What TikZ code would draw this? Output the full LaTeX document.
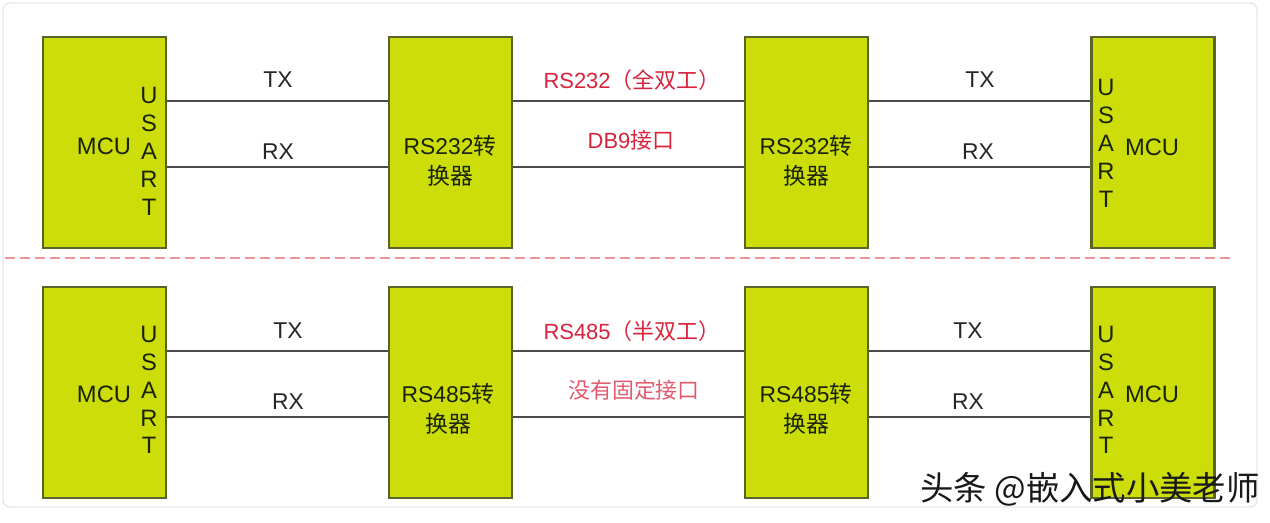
\documentclass[tikz,border=0pt]{standalone}
\usepackage{fontspec}
\setmainfont{Liberation Sans}
\newfontfamily\cjk{Noto Sans CJK SC}
\usetikzlibrary{positioning, calc}
\definecolor{boxgreen}{RGB}{205, 221, 10}
\definecolor{boxedge}{RGB}{90, 100, 40}
\definecolor{boxtext}{RGB}{25, 35, 5}
\definecolor{wiregray}{RGB}{75, 75, 75}
\definecolor{labred}{RGB}{215, 35, 60}
\definecolor{dashpink}{RGB}{235, 150, 150}
\definecolor{framegray}{RGB}{232, 232, 236}

\tikzset{
  unit/.style={draw=boxedge, line width=1.3pt, fill=boxgreen, minimum width=2.46cm, minimum height=4.22cm, inner sep=0pt},
  wire/.style={wiregray, line width=1pt},
  sig/.style={font=\fontsize{13}{15}\selectfont, text=black!85, inner sep=1pt},
  mcutext/.style={font=\fontsize{13.5}{15}\selectfont, text=boxtext, inner sep=1pt},
  port/.style={font=\fontsize{13.5}{15.9}\selectfont, text=boxtext, align=center, inner sep=1pt},
  conv/.style={font=\fontsize{13}{17}\selectfont, text=boxtext, align=center, inner sep=1pt},
  bus/.style={font=\fontsize{12.5}{15}\selectfont, text=labred, inner sep=1pt},
  sepline/.style={dashpink, line width=1.1pt, dash pattern=on 0.2cm off 0.1cm}
}

\begin{document}
\begin{tikzpicture}[x=0.02cm, y=-0.02cm]
  \useasboundingbox (0,0) rectangle (1270,522);
  \draw[framegray, line width=0.8pt, rounded corners=4pt] (3,3) rectangle (1257,507);

  % RS232 link - full duplex
  \begin{scope}
    \node[unit] (mcuTL) at (104.5,142.5) {};
    \node[unit] (cvtTL) at (450.5,142.5) {};
    \node[unit] (cvtTR) at (806.5,142.5) {};
    \node[unit] (mcuTR) at (1153,142.5) {};

    \node[mcutext] (mcuTLname) at (104,146) {MCU};
    \node[port] (usartTL) at (149,151) {U\\S\\A\\R\\T};
    \node[conv] (cvtTLname) at (450,161) {RS232{\cjk 转}\\{\cjk 换器}};
    \node[conv] (cvtTRname) at (806,161) {RS232{\cjk 转}\\{\cjk 换器}};
    \node[port] (usartTR) at (1106,143) {U\\S\\A\\R\\T};
    \node[mcutext] (mcuTRname) at (1152,147) {MCU};

    \draw[wire] (mcuTL.east |- 0,101) -- (cvtTL.west |- 0,101);
    \draw[wire] (mcuTL.east |- 0,167) -- (cvtTL.west |- 0,167);
    \draw[wire] (cvtTL.east |- 0,101) -- (cvtTR.west |- 0,101);
    \draw[wire] (cvtTL.east |- 0,167) -- (cvtTR.west |- 0,167);
    \draw[wire] (cvtTR.east |- 0,101) -- (mcuTR.west |- 0,101);
    \draw[wire] (cvtTR.east |- 0,167) -- (mcuTR.west |- 0,167);

    \node[sig] (txTL) at (278,80) {TX};
    \node[sig] (rxTL) at (278,152) {RX};
    \node[bus] (busT) at (632,80) {RS232{\cjk （全双工）}};
    \node[bus] (portT) at (631,140) {DB9{\cjk 接口}};
    \node[sig] (txTR) at (980,80) {TX};
    \node[sig] (rxTR) at (978,152) {RX};
  \end{scope}

  \draw[sepline] (5,258) -- (1232,258);

  % RS485 link - half duplex
  \begin{scope}[yshift=-5cm]
    \node[unit] (mcuBL) at (104.5,142.5) {};
    \node[unit] (cvtBL) at (450.5,142.5) {};
    \node[unit] (cvtBR) at (806.5,142.5) {};
    \node[unit] (mcuBR) at (1153,142.5) {};

    \node[mcutext] (mcuBLname) at (104,144) {MCU};
    \node[port] (usartBL) at (149,140) {U\\S\\A\\R\\T};
    \node[conv] (cvtBLname) at (448,159) {RS485{\cjk 转}\\{\cjk 换器}};
    \node[conv] (cvtBRname) at (806,159) {RS485{\cjk 转}\\{\cjk 换器}};
    \node[port] (usartBR) at (1106,140) {U\\S\\A\\R\\T};
    \node[mcutext] (mcuBRname) at (1152,144) {MCU};

    \draw[wire] (mcuBL.east |- 0,101) -- (cvtBL.west |- 0,101);
    \draw[wire] (mcuBL.east |- 0,167) -- (cvtBL.west |- 0,167);
    \draw[wire] (cvtBL.east |- 0,101) -- (cvtBR.west |- 0,101);
    \draw[wire] (cvtBL.east |- 0,167) -- (cvtBR.west |- 0,167);
    \draw[wire] (cvtBR.east |- 0,101) -- (mcuBR.west |- 0,101);
    \draw[wire] (cvtBR.east |- 0,167) -- (mcuBR.west |- 0,167);

    \node[sig] (txBL) at (288,81) {TX};
    \node[sig] (rxBL) at (288,152) {RX};
    \node[bus] (busB) at (632,81) {RS485{\cjk （半双工）}};
    \node[bus, text=labred!75] (portB) at (634,140) {\cjk 没有固定接口};
    \node[sig] (txBR) at (968,81) {TX};
    \node[sig] (rxBR) at (968,152) {RX};
  \end{scope}

  \node[font=\cjk\fontsize{19}{21}\selectfont, text=black!90, inner sep=0pt] (mark) at (1090,489) {头条 @嵌入式小美老师};
\end{tikzpicture}
\end{document}
